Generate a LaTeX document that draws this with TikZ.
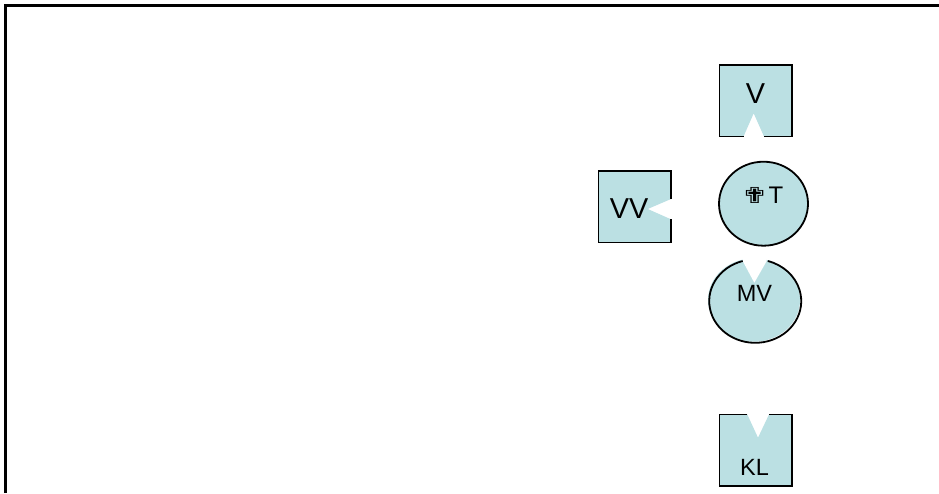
\documentclass[tikz,border=0pt]{standalone}
\usepackage{fontspec}
\setmainfont{Liberation Sans}
\newfontfamily\symfont[FakeStretch=1.5]{DejaVu Sans}
\definecolor{shapefill}{HTML}{BBE0E3}
\tikzset{
  x=1pt,y=-1pt,
  frameline/.style={draw=black,line width=2.1pt},
  shapeline/.style={draw=black,line width=1.8pt,fill=shapefill},
  shapeedge/.style={draw=black,line width=1.8pt},
  bodyfill/.style={fill=shapefill},
  lbl/.style={inner sep=0pt,text=black,anchor=center}
}
\begin{document}
\begin{tikzpicture}
\useasboundingbox (0,0) rectangle (939,493);
\fill[white] (0,0) rectangle (939,493);
\draw[frameline] (5.5,493) -- (5.5,5.5) -- (939,5.5);
% V
\path[bodyfill] (719.5,65) -- (792,65) -- (792,136.5) -- (764,136.5) -- (753.7,113.3) -- (743.5,136.5) -- (719.5,136.5) -- cycle;
\draw[shapeedge,line join=miter] (743.5,136.5) -- (719.5,136.5) -- (719.5,65) -- (792,65) -- (792,136.5) -- (764,136.5);
\node[lbl,font=\fontsize{28.8}{30}\selectfont] (v) at (755.5,94) {V};
% VV
\path[bodyfill] (598.5,171) -- (671,171) -- (671,199) -- (647.7,209) -- (671,219.3) -- (671,242.5) -- (598.5,242.5) -- cycle;
\draw[shapeedge] (671,199) -- (671,171) -- (598.5,171) -- (598.5,242.5) -- (671,242.5) -- (671,219.3);
\node[lbl,font=\fontsize{28.8}{30}\selectfont] (vv) at (629,209) {VV};
% T
\draw[shapeline] (763.5,203.7) ellipse [x radius=44.5,y radius=42];
\node[lbl,font=\fontsize{24}{26}\selectfont] (t) at (762,195) {{\symfont\fontsize{22}{24}\selectfont ✟}T};
% MV
\path[bodyfill] (754,300) ellipse [x radius=46,y radius=41.7];
\path[fill=white] (742.7,261) -- (754.3,282.7) -- (766.7,261) -- (766.7,250) -- (742.7,250) -- cycle;
\draw[shapeedge] (742.7,261) arc[start angle=-105.8,end angle=-434.2,x radius=46,y radius=41.7];
\node[lbl,font=\fontsize{23.5}{25}\selectfont] (mv) at (754.5,293.5) {MV};
% KL
\path[bodyfill] (719.5,414.5) -- (747.3,414.5) -- (758,437.7) -- (769,414.5) -- (792,414.5) -- (792,486) -- (719.5,486) -- cycle;
\draw[shapeedge] (747.3,414.5) -- (719.5,414.5) -- (719.5,486) -- (792,486) -- (792,414.5) -- (769,414.5);
\node[lbl,font=\fontsize{23.5}{25}\selectfont] (kl) at (754.5,467) {KL};
\end{tikzpicture}
\end{document}
